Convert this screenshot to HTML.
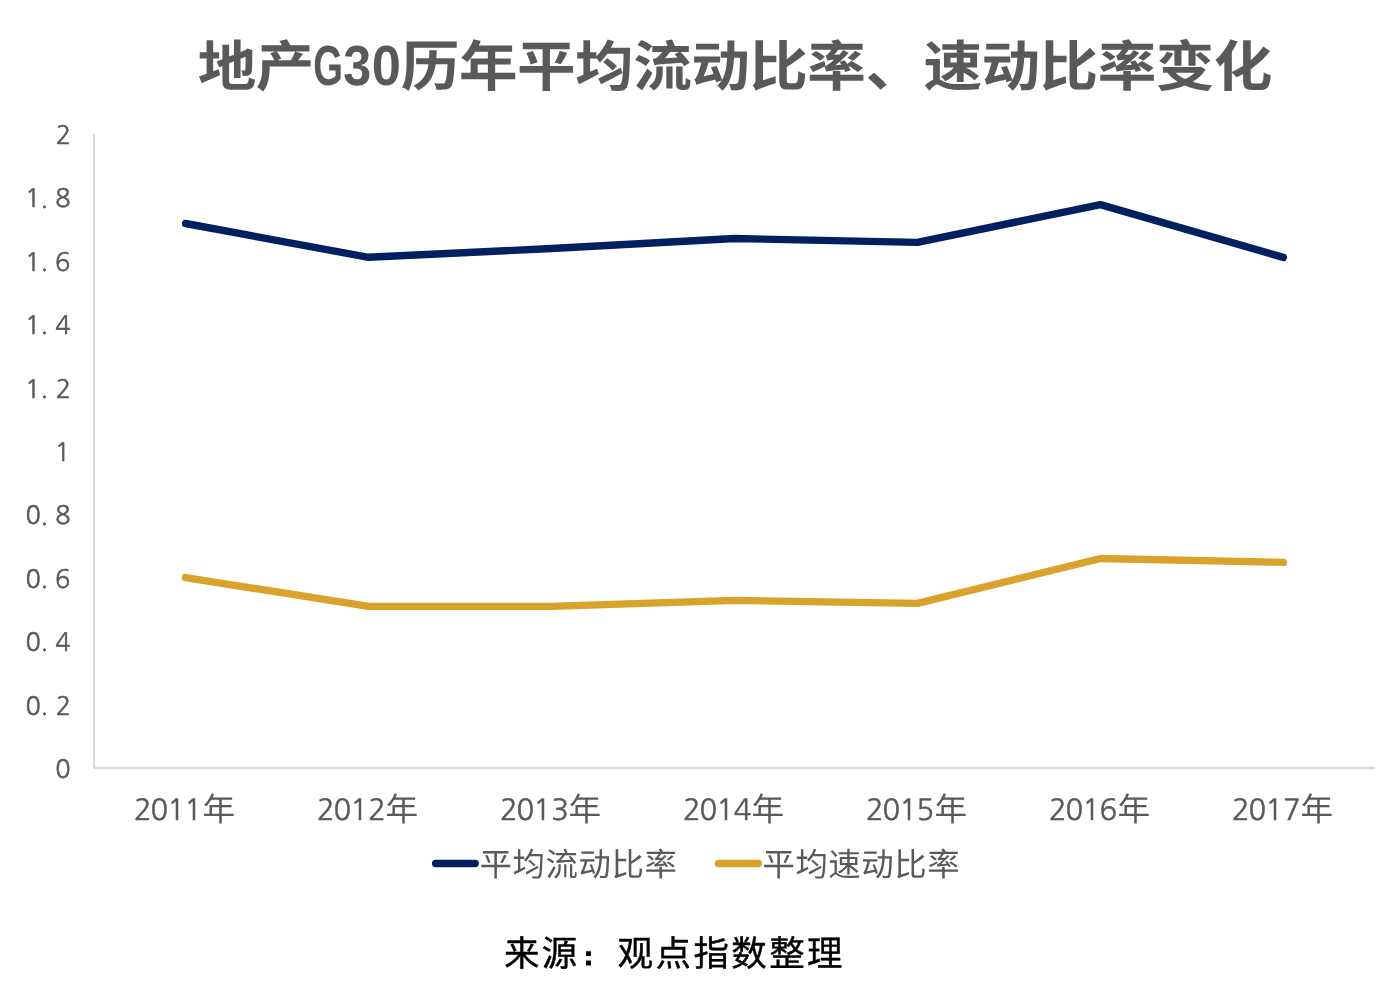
<!DOCTYPE html>
<html lang="zh-CN">
<head>
<meta charset="utf-8">
<title>地产G30历年平均流动比率、速动比率变化</title>
<style>
html,body{margin:0;padding:0;background:#fff;}
body{width:1389px;height:995px;overflow:hidden;}
svg{display:block;}
text{font-family:"Noto Sans CJK SC","Liberation Sans",sans-serif;fill:#595959;text-rendering:geometricPrecision;}
.num{font-family:"NanumGothic","Liberation Sans","Noto Sans CJK SC",sans-serif;stroke:#595959;stroke-width:0.5px;}
.lat{font-family:"Liberation Sans","Noto Sans CJK SC",sans-serif;}
.title{font-weight:bold;font-size:58.6px;}
.ax{font-size:25.3px;}
.xl{font-size:32.7px;}
.xl .num{font-size:29.1px;}
.lg{font-size:32.4px;letter-spacing:0.6px;}
.src{font-size:35.5px;fill:#000;stroke:#000;stroke-width:0.4px;letter-spacing:2.4px;}
.src .colon{font-family:"IPAGothic","Noto Sans CJK SC",sans-serif;font-size:26.5px;stroke-width:1.8px;stroke-linejoin:miter;letter-spacing:0;}
</style>
</head>
<body>
<svg width="1389" height="995" viewBox="0 0 1389 995">
<rect x="0" y="0" width="1389" height="995" fill="#ffffff"/>

<text class="title" transform="translate(0,86.3) scale(1,0.935)" y="0" x="197.73 255.79">地产<tspan class="lat" font-size="60.4" x="313.37" y="-0.9" textLength="29.74" lengthAdjust="spacingAndGlyphs">G</tspan><tspan class="lat" font-size="60.4" x="343.3" y="-0.9" textLength="27.92" lengthAdjust="spacingAndGlyphs">3</tspan><tspan class="lat" font-size="60.4" x="371.73" y="-0.9" textLength="29.17" lengthAdjust="spacingAndGlyphs">0</tspan><tspan y="0" x="400.94 459 517.06 575.12 633.18 691.24 749.3 807.36 865.42 923.48 981.54 1039.6 1097.66 1155.72 1213.78">历年平均流动比率、速动比率变化</tspan></text>
<line x1="94.0" y1="134.0" x2="94.0" y2="767.9" stroke="#d6d6d6" stroke-width="1.9"/>
<line x1="94.1" y1="768.0" x2="1375.0" y2="768.0" stroke="#d6d6d6" stroke-width="1.9"/>
<text class="ax num" x="55.21" y="777.96">0</text>
<text class="ax num" x="25.41 40.6 55.69" y="714.56 713.76 714.56">0.2</text>
<text class="ax num" x="25.41 40.6 55.27" y="651.16 650.36 651.16">0.4</text>
<text class="ax num" x="25.41 40.6 55.12" y="587.76 586.96 587.76">0.6</text>
<text class="ax num" x="25.41 40.6 55.19" y="524.36 523.56 524.36">0.8</text>
<text class="ax num" x="54.78" y="460.96">1</text>
<text class="ax num" x="24.98 40.6 55.69" y="397.56 396.76 397.56">1.2</text>
<text class="ax num" x="24.98 40.6 55.27" y="334.16 333.36 334.16">1.4</text>
<text class="ax num" x="24.98 40.6 55.12" y="270.76 269.96 270.76">1.6</text>
<text class="ax num" x="24.98 40.6 55.19" y="207.36 206.56 207.36">1.8</text>
<text class="ax num" x="55.69" y="143.96">2</text>
<text class="xl" y="820"><tspan class="num" x="134.12 150.62 167.29 184.34">2011</tspan><tspan x="202.62" dy="1.2">年</tspan></text>
<text class="xl" y="820"><tspan class="num" x="317.12 333.62 350.29 368.27">2012</tspan><tspan x="385.62" dy="1.2">年</tspan></text>
<text class="xl" y="820"><tspan class="num" x="500.12 516.62 533.29 551.16">2013</tspan><tspan x="568.62" dy="1.2">年</tspan></text>
<text class="xl" y="820"><tspan class="num" x="683.12 699.62 716.29 733.79">2014</tspan><tspan x="751.62" dy="1.2">年</tspan></text>
<text class="xl" y="820"><tspan class="num" x="866.12 882.62 899.29 916.4">2015</tspan><tspan x="934.62" dy="1.2">年</tspan></text>
<text class="xl" y="820"><tspan class="num" x="1049.12 1065.62 1082.29 1099.62">2016</tspan><tspan x="1117.62" dy="1.2">年</tspan></text>
<text class="xl" y="820"><tspan class="num" x="1232.12 1248.62 1265.29 1282.94">2017</tspan><tspan x="1300.62" dy="1.2">年</tspan></text>
<polyline points="185.6,223.5 368.5,257.3 551.5,248.5 734.5,238.5 917.4,242.4 1100.4,204.6 1283.4,257.4" fill="none" stroke="#002060" stroke-width="7.4" stroke-linecap="round" stroke-linejoin="round"/>
<polyline points="185.6,577.6 368.5,606.4 551.5,606.4 734.5,600.4 917.4,603.4 1100.4,558.5 1283.4,562.4" fill="none" stroke="#d9a22b" stroke-width="7.4" stroke-linecap="round" stroke-linejoin="round"/>
<line x1="435.6" y1="863.45" x2="475.2" y2="863.45" stroke="#002060" stroke-width="7.4" stroke-linecap="round"/>
<text class="lg" x="479.5" y="876">平均流动比率</text>
<line x1="718.5" y1="863.45" x2="758.3" y2="863.45" stroke="#d9a22b" stroke-width="7.4" stroke-linecap="round"/>
<text class="lg" x="762.4" y="876">平均速动比率</text>
<text class="src" y="965.5" x="503.9 541.8">来源<tspan class="colon" x="575.2" y="966.45">：</tspan><tspan y="965.5" x="617.6 655.5 693.4 731.3 769.2 807.1">观点指数整理</tspan></text>
</svg>
</body>
</html>
